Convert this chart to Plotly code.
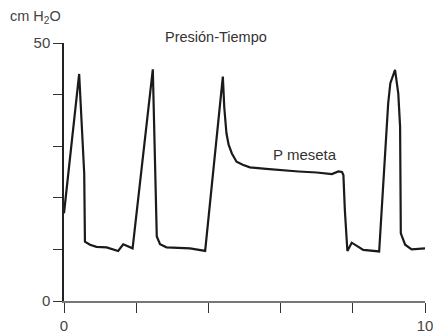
import plotly.graph_objects as go

# Pressure-time curve (time in s, pressure in cm H2O)
time = [0.0, 0.42, 0.56, 0.58, 0.72, 0.9, 1.18, 1.5, 1.64, 1.9,
        2.46, 2.57, 2.66, 2.84, 3.49, 3.91,
        4.4, 4.44, 4.5, 4.56, 4.65, 4.78, 4.95, 5.15, 5.6, 6.07, 6.5, 7.0, 7.42, 7.6, 7.7, 7.74, 7.78, 7.85,
        7.97, 8.29, 8.73, 8.98, 9.04, 9.17, 9.26, 9.31, 9.33, 9.45, 9.63, 10.0]
pressure = [17.0, 44.0, 24.7, 11.5, 10.9, 10.5, 10.4, 9.7, 11.0, 10.2,
            44.9, 12.5, 11.0, 10.4, 10.2, 9.7,
            43.5, 37.5, 32.5, 30.3, 28.6, 27.0, 26.4, 25.9, 25.6, 25.3, 25.1, 24.9, 24.6, 25.1, 25.0, 24.4, 17.6, 9.7,
            11.3, 9.9, 9.6, 38.3, 42.2, 44.8, 40.2, 33.8, 13.1, 10.9, 10.0, 10.2]

x_ticks = [0, 2, 4, 6, 8, 10]
x_ticktext = ["0", "", "", "", "", "10"]
y_ticks = [0, 10, 20, 30, 40, 50]
y_ticktext = ["0", "", "", "", "", "50"]

FONT = "Liberation Sans, Arial, sans-serif"
TXT = "#444444"

fig = go.Figure()
fig.add_trace(go.Scatter(x=time, y=pressure, mode="lines",
                         line=dict(color="#1a1a1a", width=2.2, shape="linear"),
                         hoverinfo="skip", showlegend=False))

fig.update_layout(
    template="none",
    width=433, height=334,
    margin=dict(l=64, r=8, t=43, b=33, pad=0),
    paper_bgcolor="white", plot_bgcolor="white",
    font=dict(family=FONT, size=15, color=TXT),
    xaxis=dict(range=[0, 10], tickvals=x_ticks, ticktext=x_ticktext,
               showgrid=False, zeroline=False, showline=True, automargin=False,
               ticklabeloverflow="allow",
               linecolor="#777777", linewidth=1.5, ticks="outside", ticklen=10,
               tickcolor="#333333", tickwidth=1.2, fixedrange=True,
               tickfont=dict(family=FONT, size=15, color=TXT)),
    yaxis=dict(range=[0, 50], tickvals=y_ticks, ticktext=y_ticktext,
               showgrid=False, zeroline=False, showline=True, automargin=False,
               ticklabeloverflow="allow",
               linecolor="#222222", linewidth=1.5, ticks="outside", ticklen=9,
               tickcolor="#333333", tickwidth=1.2, fixedrange=True,
               tickfont=dict(family=FONT, size=15, color=TXT)),
    annotations=[
        dict(text="cm H<sub>2</sub>O", xref="paper", yref="paper",
             x=-0.155, y=1.10, xanchor="left", yanchor="middle",
             showarrow=False, font=dict(family=FONT, size=14.5, color=TXT)),
        dict(text="Presión-Tiempo", xref="paper", yref="paper",
             x=0.421, y=1.023, xanchor="center", yanchor="middle",
             showarrow=False, font=dict(family=FONT, size=14.5, color="#333333")),
        dict(text="P meseta", xref="x", yref="y",
             x=6.67, y=28.3, xanchor="center", yanchor="middle",
             showarrow=False, font=dict(family=FONT, size=15, color="#333333")),
    ],
)

fig.write_html("out.html")
